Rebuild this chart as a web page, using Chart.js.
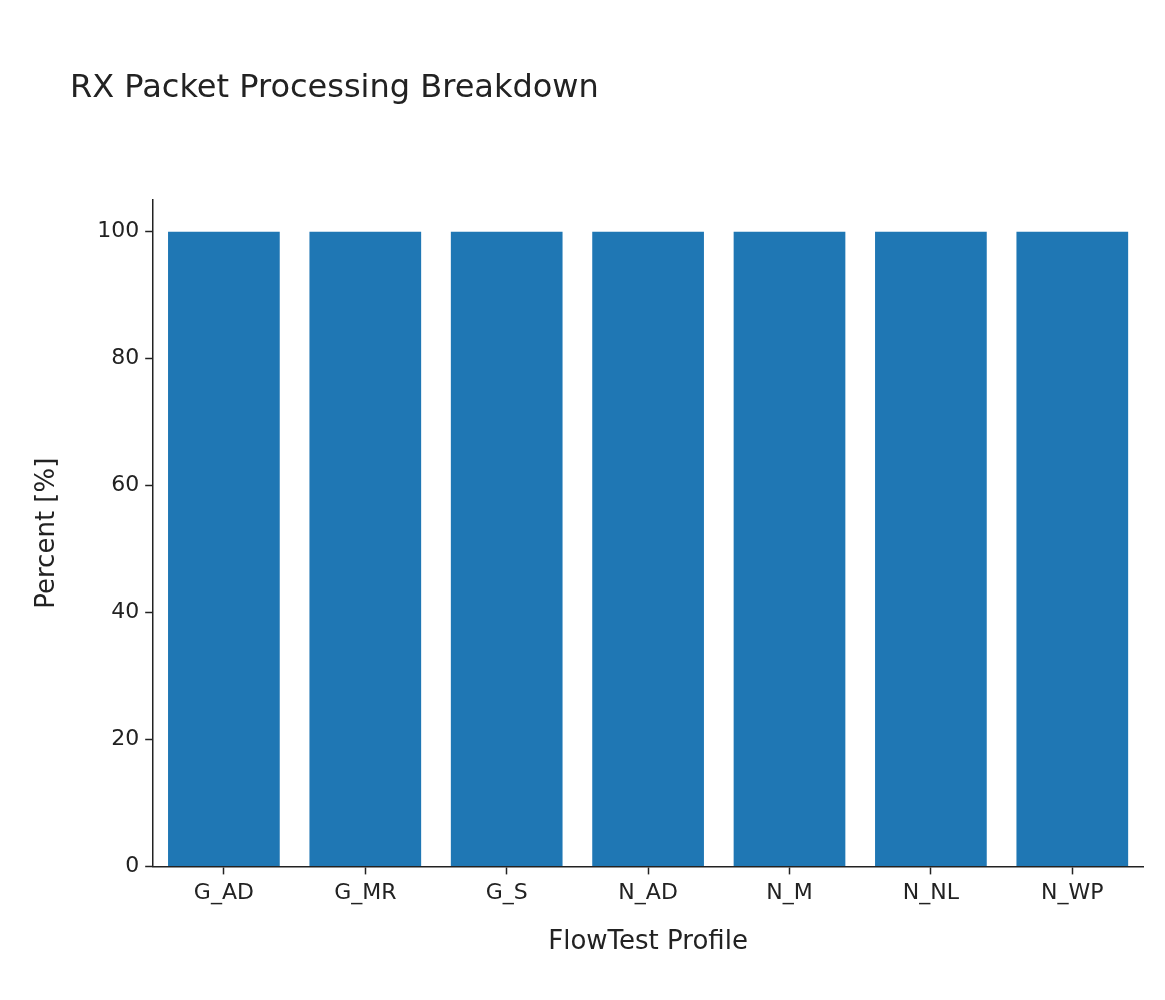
<!DOCTYPE html>
<html><head><meta charset="utf-8">
<script src="https://cdn.jsdelivr.net/npm/chart.js@4"></script>
<style>body{margin:0;background:#fff}#wrap{width:1165px;height:1000px}</style>
</head><body><div id="wrap"><canvas id="c"></canvas></div>
<script>
const profiles = ['G_AD', 'G_MR', 'G_S', 'N_AD', 'N_M', 'N_NL', 'N_WP'];
const percent = [100, 100, 100, 100, 100, 100, 100];
const yTicks = [0, 20, 40, 60, 80, 100];

const titlePlugin = {
  id: 'leftTitle',
  afterDraw(chart) {
    const ctx = chart.ctx;
    ctx.save();
    ctx.font = '32px "DejaVu Sans"';
    ctx.fillStyle = '#222';
    ctx.textBaseline = 'middle';
    ctx.fillText('RX Packet Processing Breakdown', 70, 89);
    ctx.restore();
  }
};

Chart.defaults.font.family = '"DejaVu Sans"';
Chart.defaults.color = '#222';
new Chart(document.getElementById('c'), {
  type: 'bar',
  data: {
    labels: profiles,
    datasets: [{ data: percent, backgroundColor: '#1f77b4', categoryPercentage: 0.79, barPercentage: 1 }]
  },
  options: {
    responsive: true, maintainAspectRatio: false, animation: false,
    layout: { padding: { top: 200, right: 22, bottom: 38, left: 28 } },
    plugins: { legend: { display: false }, tooltip: { enabled: false } },
    scales: {
      x: {
        grid: { display: true, offset: false, drawOnChartArea: false, tickLength: 8, color: '#222', tickWidth: 1.5 },
        border: { color: '#222', width: 1.5 },
        ticks: { font: { size: 22 }, color: '#222', padding: 6 },
        title: { display: true, text: 'FlowTest Profile', font: { size: 26 }, color: '#222', padding: { top: 14 } }
      },
      y: {
        min: 0, max: 105,
        afterBuildTicks: a => { a.ticks = yTicks.map(v => ({ value: v })); },
        grid: { display: true, drawOnChartArea: false, tickLength: 8, color: '#222', tickWidth: 1.5 },
        border: { color: '#222', width: 1.5 },
        ticks: { font: { size: 22 }, color: '#222', padding: 6 },
        title: { display: true, text: 'Percent [%]', font: { size: 26 }, color: '#222', padding: { bottom: 28 } }
      }
    }
  },
  plugins: [titlePlugin]
});
</script></body></html>
